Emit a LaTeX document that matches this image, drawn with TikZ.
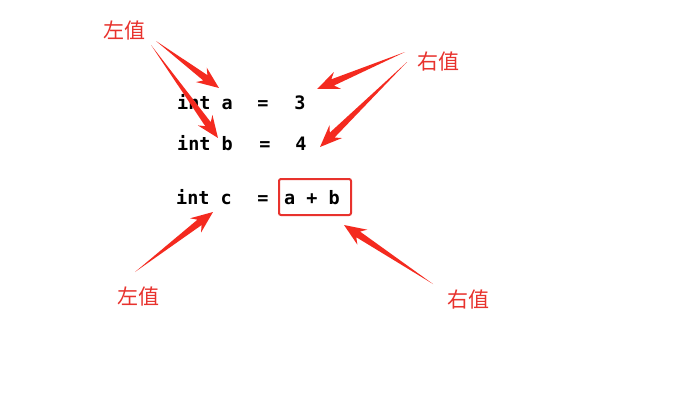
\documentclass[tikz,border=0pt]{standalone}
\usepackage{fontspec}
\newfontfamily\cjk{Noto Sans CJK SC}
\newfontfamily\codefont{DejaVu Sans Mono}
\usetikzlibrary{calc}
\definecolor{lblred}{HTML}{E8322D}
\definecolor{arrred}{HTML}{F42A1F}
\tikzset{
  lbl/.style={font=\cjk\fontsize{21}{21}\selectfont, text=lblred, inner sep=0pt},
  code/.style={font=\codefont\bfseries\fontsize{18.5}{18.5}\selectfont, inner sep=0pt, anchor=base west},
  codec/.style={font=\codefont\bfseries\fontsize{18.5}{18.5}\selectfont, inner sep=0pt, anchor=base},
}
\newcommand{\taperarrow}[2]{%
  \fill[arrred] let \p1=(#1), \p2=(#2),
    \n1={atan2(\y2-\y1,\x2-\x1)}, \n2={veclen(\x2-\x1,\y2-\y1)} in
    [shift={(\p1)}, rotate=\n1]
    (0,0) -- (\n2-17,3.4) -- (\n2-22,9) -- (\n2,0) -- (\n2-22,-9) -- (\n2-17,-3.4) -- cycle;}
\begin{document}
\begin{tikzpicture}[x=1pt,y=-1pt]
\useasboundingbox[fill=white] (0,0) rectangle (678,413);
% labels
\node[lbl] (lv1) at (124,31) {左值};
\node[lbl] (rv1) at (438,62) {右值};
\node[lbl] (lv2) at (138,297) {左值};
\node[lbl] (rv2) at (468,300) {右值};
% code
\node[code] (ia) at (177,109) {int a};
\node[codec] (eqa) at (263,109) {=};
\node[codec] (va) at (300,109) {3};
\node[code] (ib) at (177,150) {int b};
\node[codec] (eqb) at (265,150) {=};
\node[codec] (vb) at (301,150) {4};
\node[code] (ic) at (176,204) {int c};
\node[codec] (eqc) at (263,204) {=};
\node[codec] (sum) at (312,204) {a + b};
\node[draw=lblred, line width=2pt, rounded corners=2pt, minimum width=72pt, minimum height=36pt, inner sep=0pt] (box) at (315,197) {};
% arrow ends
\coordinate (t1) at (156,41);
\coordinate (h1) at (219,88);
\coordinate (t2) at (151,45);
\coordinate (h2) at (218,138);
\coordinate (t3) at (405,52);
\coordinate (h3) at (317,89);
\coordinate (t4) at (407,62);
\coordinate (h4) at (320,147);
\coordinate (t5) at (135,272);
\coordinate (h5) at (213,212);
\coordinate (t6) at (433,284);
\coordinate (h6) at (344,225);
\taperarrow{t1}{h1}
\taperarrow{t2}{h2}
\taperarrow{t3}{h3}
\taperarrow{t4}{h4}
\taperarrow{t5}{h5}
\taperarrow{t6}{h6}
\end{tikzpicture}
\end{document}
